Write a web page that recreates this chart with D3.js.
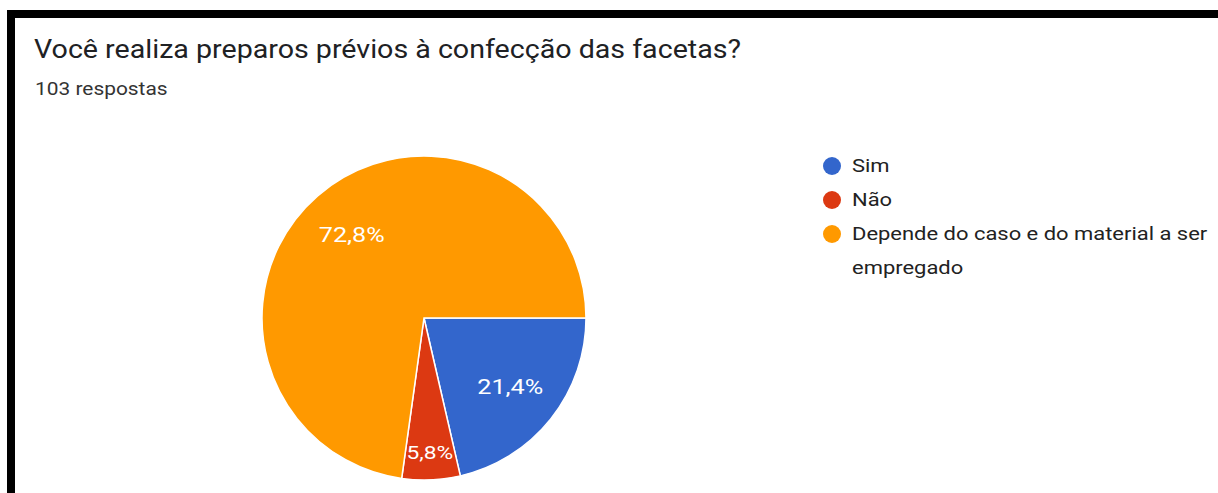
<!DOCTYPE html>
<html>
<head>
<meta charset="utf-8">
<script src="https://cdn.jsdelivr.net/npm/d3@7"></script>
<style>
  html, body { margin: 0; padding: 0; background: #fff; }
  svg { display: block; font-family: Roboto, Arial, sans-serif; }
</style>
</head>
<body>
<svg id="chart" width="1218" height="493"></svg>
<script>
// Survey answers
const categories = ["Sim", "Não", "Depende do caso e do material a ser empregado"];
const shares = [21.4, 5.8, 72.8];
const colors = ["#3366cc", "#dc3912", "#ff9900"];
const title = "Você realiza preparos prévios à confecção das facetas?";
const subtitle = "103 respostas";

const svg = d3.select("#chart");
const W = 1218, H = 493;

// horizontally widened text helper
function wideText(parent, x, y, sx) {
  return parent.append("g").attr("transform", `translate(${x},${y}) scale(${sx},1)`)
    .append("text");
}

// card frame: thick dark edge on top and left
svg.append("rect").attr("x", 0).attr("y", 0).attr("width", W).attr("height", H).attr("fill", "#fff");
svg.append("rect").attr("x", 7).attr("y", 10).attr("width", W - 7).attr("height", 8).attr("fill", "#000");
svg.append("rect").attr("x", 7).attr("y", 10).attr("width", 8).attr("height", H - 10).attr("fill", "#000");

wideText(svg, 34, 58, 1.1)
  .attr("font-size", 26).attr("fill", "#202124")
  .text(title);

wideText(svg, 35, 95, 1.1)
  .attr("font-size", 19).attr("fill", "#333")
  .text(subtitle);

// pie
const cx = 424, cy = 318, R = 162;
const data = categories.map((c, i) => ({ name: c, value: shares[i], color: colors[i] }));
const pie = d3.pie().value(d => d.value).sort(null)
  .startAngle(Math.PI / 2).endAngle(Math.PI / 2 + 2 * Math.PI);
const arcs = pie(data);
const arc = d3.arc().innerRadius(0).outerRadius(R);

const g = svg.append("g").attr("transform", `translate(${cx},${cy})`);
g.selectAll("path.slice").data(arcs).enter().append("path")
  .attr("class", "slice")
  .attr("d", arc)
  .attr("fill", d => d.data.color)
  .attr("stroke", "#fff").attr("stroke-width", 1.5);

// labels sit at two-thirds radius; narrow slices push them further out
arcs.forEach(d => {
  const frac = (d.endAngle - d.startAngle) / (2 * Math.PI);
  const small = frac < 0.1;
  const r = small ? R * 0.83 : R * 0.68;
  const c = d3.arc().innerRadius(r).outerRadius(r).centroid(d);
  wideText(g, c[0], c[1], 1.2)
    .attr("text-anchor", "middle").attr("dy", "0.35em")
    .attr("font-size", small ? 19 : 21)
    .attr("fill", "#fff")
    .text(d3.format(".1f")(d.data.value).replace(".", ",") + "%");
});

// legend
const legend = svg.append("g").attr("transform", "translate(832,166)");
const lineH = 34;
const wrapped = [["Sim"], ["Não"], ["Depende do caso e do material a ser", "empregado"]];
data.forEach((d, i) => {
  const row = legend.append("g").attr("transform", `translate(0,${i * lineH})`);
  row.append("circle").attr("r", 9).attr("fill", d.color);
  const t = wideText(row, 20, 6, 1.22)
    .attr("font-size", 18).attr("fill", "#222");
  wrapped[i].forEach((line, j) => {
    t.append("tspan").attr("x", 0).attr("dy", j === 0 ? 0 : lineH).text(line);
  });
});
</script>
</body>
</html>
